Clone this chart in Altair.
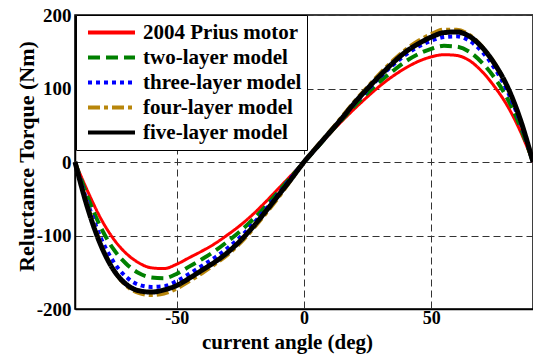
import altair as alt
import pandas as pd

# Current angle in degrees
angle = [-90, -85, -80, -75, -70, -65, -60, -55, -50, -45, -40, -35, -30, -25, -20, -15, -10, -5,
         0, 5, 10, 15, 20, 25, 30, 35, 40, 45, 50, 55, 60, 65, 70, 75, 80, 85, 90]

# Reluctance torque (Nm) per rotor design
prius = [0, -40, -76, -104, -124, -137, -144, -145, -139, -130, -121, -111, -99, -86, -71, -54, -36, -18,
         0, 19, 38, 56, 73, 89, 104, 117, 128, 137, 143, 146, 145, 138, 123, 102, 76, 42, 0]
two_layer = [0, -48, -88, -118, -138, -151, -157, -158, -152, -142, -132, -121, -108, -94, -78, -60, -40, -20,
             0, 19, 39, 58, 77, 94, 110, 124, 137, 147, 154, 158, 157, 150, 135, 114, 86, 48, 0]
three_layer = [0, -56, -102, -135, -156, -167, -170, -169, -162, -152, -141, -130, -117, -102, -84, -64, -43, -21,
               0, 20, 40, 60, 80, 98, 116, 132, 146, 157, 165, 170, 171, 165, 150, 127, 96, 54, 0]
four_layer = [0, -60, -110, -146, -168, -178, -181, -179, -172, -162, -151, -139, -126, -110, -91, -70, -48, -24,
              0, 21, 41, 62, 83, 102, 121, 138, 153, 165, 174, 180, 180, 173, 157, 134, 102, 57, 0]
five_layer = [0, -63, -112, -146, -166, -175, -177, -174, -168, -158, -147, -136, -123, -107, -88, -67, -45, -23,
              0, 20, 40, 60, 81, 100, 118, 135, 150, 161, 170, 176, 177, 171, 156, 133, 102, 58, 0]

models = ["2004 Prius motor", "two-layer model", "three-layer model", "four-layer model", "five-layer model"]
series = [prius, two_layer, three_layer, four_layer, five_layer]
colors = ["#ff0000", "#008000", "#0000ff", "#b8860b", "#000000"]
dashes = [[1, 0], [12, 6], [4, 4], [12, 4, 4, 4], [1, 0]]
widths = [3, 4, 4, 4, 5]

x_ticks = [-50, 0, 50]
y_ticks = [-200, -100, 0, 100, 200]

rows = []
for name, vals in zip(models, series):
    for a, v in zip(angle, vals):
        rows.append({"angle": a, "torque": v, "model": name})
df = pd.DataFrame(rows)

FONT = "Liberation Serif"
# plain hyphen for negative tick labels
LABEL = "datum.value < 0 ? '-' + abs(datum.value) : '' + datum.value"

x_enc = alt.X(
    "angle:Q",
    scale=alt.Scale(domain=[-90, 90], nice=False, zero=False),
    axis=alt.Axis(values=x_ticks, title="current angle (deg)", labelPadding=0, labelExpr=LABEL,
                  labelFontSize=18, titleFontSize=21,
                  titleX=212, titleY=39, titleBaseline="alphabetic"),
)
y_enc = alt.Y(
    "torque:Q",
    scale=alt.Scale(domain=[-200, 200], nice=False),
    axis=alt.Axis(values=y_ticks, title="Reluctance Torque (Nm)", labelPadding=4, labelExpr=LABEL,
                  titleX=-42, titleY=141, titleBaseline="alphabetic", titleAngle=-90),
)
color_enc = alt.Color("model:N", scale=alt.Scale(domain=models, range=colors),
                      legend=alt.Legend(title=None))
dash_enc = alt.StrokeDash("model:N", scale=alt.Scale(domain=models, range=dashes),
                          legend=alt.Legend(title=None))

layers = []
for name, w in zip(models, widths):
    layers.append(
        alt.Chart(df)
        .transform_filter(alt.datum.model == name)
        .mark_line(interpolate="monotone", strokeWidth=w)
        .encode(x=x_enc, y=y_enc, color=color_enc, strokeDash=dash_enc)
    )

chart = (
    alt.layer(*layers)
    .properties(
        width=458,
        height=294,
        autosize=alt.AutoSizeParams(type="none"),
        padding={"left": 75, "top": 15, "right": 0, "bottom": 45},
        background="white",
    )
    .configure_view(stroke="black", strokeWidth=1.5)
    .configure_axis(
        grid=True,
        gridColor="#333333",
        gridDash=[7, 4],
        gridWidth=1,
        gridOpacity=1,
        domainColor="black",
        domainWidth=1.5,
        ticks=False,
        labelFont=FONT,
        labelFontSize=19,
        labelFontWeight="bold",
        labelColor="black",
        titleFont=FONT,
        titleFontSize=22,
        titleFontWeight="bold",
        titleColor="black",
    )
    .configure_legend(
        orient="none",
        legendX=1,
        legendY=0,
        padding=5,
        strokeColor="black",
        strokeWidth=1,
        fillColor="white",
        symbolType="stroke",
        symbolSize=2209,
        symbolStrokeWidth=4,
        symbolOffset=5,
        labelFont=FONT,
        labelFontSize=21,
        labelFontWeight="bold",
        labelColor="black",
        labelOffset=6,
        rowPadding=0,
        clipHeight=25,
    )
)

chart.save("out.html", embed_options={"renderer": "svg", "actions": False})
